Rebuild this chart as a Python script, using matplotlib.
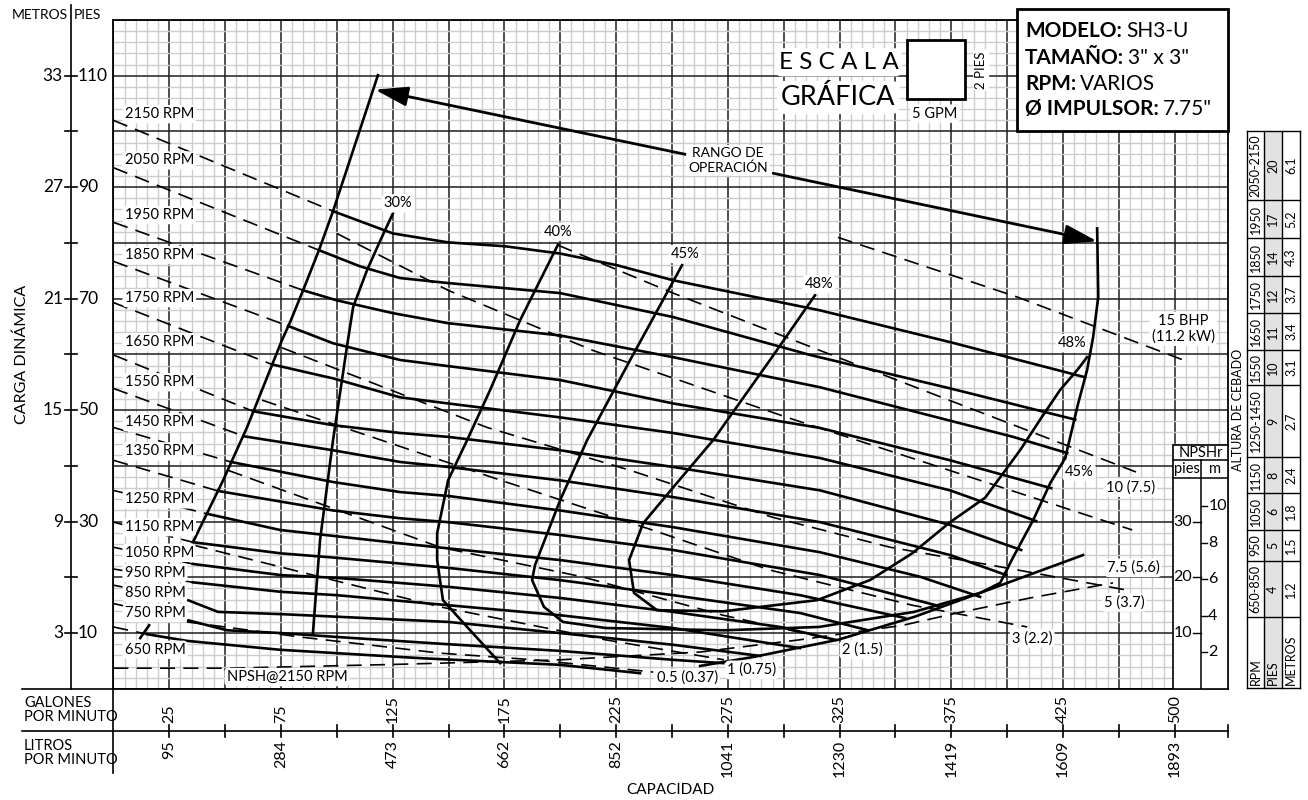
import numpy as np
import matplotlib
matplotlib.use('Agg')
import matplotlib.pyplot as plt
from matplotlib.patches import Rectangle

plt.rcParams['font.family'] = ['Lato', 'DejaVu Sans']

W, H = 1308, 800

# ---------------- datos (GPM, pies) ----------------
rpm_names = ['2150', '2050', '1950', '1850', '1750', '1650', '1550', '1450',
             '1350', '1250', '1150', '1050', '950', '850', '750', '650']
# carga a caudal cero (tramo punteado)
shutoff_h = [102.0, 93.5, 83.7, 76.7, 69.3, 59.9, 53.9, 46.9,
             41.0, 35.6, 29.9, 25.4, 21.5, 18.6, 15.3, 11.1]

q_2150 = [98.3, 125.1, 149.8, 175.3, 199.9, 225.4, 250.5, 316.3, 374.5, 434.9]
h_2150 = [85.7, 81.7, 80.1, 79.4, 78.1, 76.0, 73.3, 67.9, 62.2, 55.9]
q_2050 = [92.0, 110.4, 128.3, 149.8, 199.9, 250.5, 311.8, 374.5, 430.5]
h_2050 = [78.7, 75.8, 73.7, 72.8, 71.0, 66.7, 59.9, 53.9, 48.3]
q_1950 = [84.9, 100.0, 125.1, 149.8, 199.9, 250.5, 316.3, 402.7, 426.9]
h_1950 = [71.5, 69.7, 67.4, 65.6, 63.4, 59.5, 54.1, 45.2, 42.3]
q_1850 = [78.2, 98.3, 128.3, 149.8, 199.9, 250.5, 316.3, 374.5, 419.7]
h_1850 = [65.1, 62.0, 59.0, 57.9, 55.4, 51.2, 46.8, 41.0, 36.0]
q_1750 = [71.0, 98.3, 128.3, 149.8, 199.9, 250.5, 316.3, 374.5, 413.0]
h_1750 = [58.2, 55.7, 52.3, 51.2, 48.7, 45.9, 41.4, 35.6, 30.1]
q_1650 = [62.5, 98.3, 128.3, 149.8, 199.9, 250.5, 316.3, 374.5, 406.3]
h_1650 = [49.8, 47.3, 45.9, 45.2, 42.8, 39.8, 35.6, 29.4, 24.9]
q_1550 = [58.5, 98.3, 128.3, 149.8, 199.9, 250.5, 316.3, 374.5, 399.6]
h_1550 = [45.3, 42.8, 40.7, 39.8, 37.4, 34.4, 29.9, 24.0, 20.4]
q_1450 = [52.6, 98.3, 128.3, 149.8, 199.9, 250.5, 316.3, 361.1, 387.9]
h_1450 = [40.7, 37.1, 35.3, 34.6, 32.0, 29.0, 24.5, 20.1, 16.5]
q_1350 = [46.8, 98.3, 128.3, 149.8, 199.9, 250.5, 316.3, 370.0]
h_1350 = [35.5, 32.0, 30.6, 29.9, 27.6, 24.9, 20.4, 14.8]
q_1250 = [41.9, 74.6, 128.3, 149.8, 199.9, 250.5, 307.3, 354.3]
h_1250 = [31.4, 28.5, 26.1, 25.2, 23.1, 20.4, 16.8, 12.7]
q_1150 = [35.6, 75.0, 100.0, 149.8, 199.9, 250.5, 307.3, 337.8]
h_1150 = [26.3, 24.3, 23.5, 21.7, 19.5, 16.8, 13.6, 10.5]
q_1050 = [35.6, 75.0, 100.0, 149.8, 199.9, 250.5, 298.4, 323.0]
h_1050 = [22.4, 20.4, 19.9, 18.3, 16.3, 13.8, 11.1, 8.8]
q_950 = [35.6, 75.0, 100.0, 149.8, 199.9, 250.5, 307.3]
h_950 = [19.1, 17.4, 16.8, 15.0, 13.2, 10.9, 7.3]
q_850 = [33.4, 46.8, 75.0, 149.8, 199.9, 250.5, 289.4]
h_850 = [15.9, 13.8, 13.4, 12.0, 10.0, 7.9, 5.9]
q_750 = [33.4, 50.9, 75.0, 100.0, 149.8, 199.9, 250.5, 272.9]
h_750 = [12.3, 10.5, 10.0, 9.3, 8.0, 6.8, 5.2, 4.6]
q_650 = [15.0, 32.9, 74.6, 137.2, 199.9, 235.7]
h_650 = [9.8, 8.6, 7.0, 5.5, 4.3, 2.8]

head_q = [q_2150, q_2050, q_1950, q_1850, q_1750, q_1650, q_1550, q_1450,
          q_1350, q_1250, q_1150, q_1050, q_950, q_850, q_750, q_650]
head_h = [h_2150, h_2050, h_1950, h_1850, h_1750, h_1650, h_1550, h_1450,
          h_1350, h_1250, h_1150, h_1050, h_950, h_850, h_750, h_650]

# eficiencias
q_e30 = [125.1, 119.3, 113.5, 107.3, 104.6, 98.3, 92.5, 89.3]
h_e30 = [85.3, 80.3, 75.1, 68.5, 61.6, 44.6, 26.7, 10.0]
q_e40 = [199.0, 182.0, 168.6, 158.3, 149.8, 144.9, 144.9, 147.5, 158.3, 173.1]
h_e40 = [79.7, 66.1, 53.6, 44.6, 37.4, 27.9, 23.1, 15.9, 11.1, 4.6]
q_e45 = [254.5, 231.3, 212.0, 199.9, 188.7, 187.4, 192.7, 201.2, 220.5, 273.3,
         315.8, 358.4, 387.9, 396.9, 402.7, 411.7, 419.3, 426.0]
h_e45 = [76.0, 59.0, 44.6, 33.8, 22.2, 19.5, 14.7, 12.0, 10.9, 10.5,
         11.1, 13.8, 17.2, 19.0, 23.6, 30.3, 36.9, 41.4]
q_e48 = [314.0, 293.9, 268.4, 251.3, 237.1, 230.8, 233.0, 243.3, 272.9, 314.9,
         338.6, 357.5, 374.5, 390.2, 405.8, 416.1, 423.7, 431.4, 435.8]
h_e48 = [70.6, 59.0, 44.6, 36.5, 29.7, 23.1, 17.2, 14.1, 13.9, 15.9,
         19.5, 24.3, 29.9, 34.3, 42.8, 49.1, 53.6, 57.2, 59.5]

# limites del rango de operacion
q_left = [118.4, 98.3, 92.0, 84.9, 79.1, 75.4, 59.8, 49.1, 35.6]
h_left = [110.1, 85.7, 78.7, 71.5, 65.8, 62.5, 46.9, 37.4, 26.3]
q_right = [440.3, 440.8, 438.5, 435.8, 431.8, 426.0]
h_right = [82.6, 70.3, 63.1, 57.2, 51.2, 41.4]
q_tick650 = [12.0, 16.0]
h_tick650 = [9.1, 11.4]
q_low = [262.6, 286.3, 324.3, 358.4, 387.9, 434.0]
h_low = [4.1, 5.7, 8.8, 12.9, 17.2, 24.0]

# NPSH @ 2150 RPM
q_npsh = [0, 52.2, 128.3, 199.9, 262.6, 307.3, 353.4, 377.6, 410.3, 447.4]
h_npsh = [3.7, 3.7, 4.4, 5.2, 6.6, 8.8, 11.4, 13.6, 16.3, 19.0]

# potencia (BHP)
q_bhp15 = [324.3, 404.5, 478.8]
h_bhp15 = [81.0, 70.3, 59.0]
q_bhp10 = [199.0, 250.5, 316.3, 420.6, 457.7]
h_bhp10 = [79.6, 71.0, 60.7, 44.6, 38.9]
q_bhp7 = [100.0, 149.8, 214.7, 301.5, 456.0]
h_bhp7 = [81.7, 71.5, 60.7, 48.7, 28.5]
q_bhp5 = [75.4, 167.2, 231.3, 294.8, 347.6, 400.9, 453.7]
h_bhp5 = [61.2, 46.9, 39.2, 30.8, 25.4, 21.6, 17.7]
q_bhp3 = [66.5, 173.5, 241.1, 293.9, 357.5, 409.0]
h_bhp3 = [51.8, 37.4, 28.5, 21.3, 15.0, 11.1]
q_bhp2 = [51.3, 146.2, 209.8, 272.9, 322.1]
h_bhp2 = [39.2, 25.4, 20.1, 13.2, 8.8]
q_bhp1 = [35.6, 146.2, 220.1, 273.3]
h_bhp1 = [25.8, 14.7, 8.8, 5.2]
q_bhp05 = [32.9, 83.5, 146.2, 188.3, 241.6]
h_bhp05 = [12.0, 9.3, 6.4, 5.2, 3.0]

bhp_names = ['0.5 (0.37)', '1 (0.75)', '2 (1.5)', '3 (2.2)', '5 (3.7)',
             '7.5 (5.6)', '10 (7.5)', '15 BHP\n(11.2 kW)']
eff_names = ['30%', '40%', '45%', '48%', '48%', '45%']

# ejes
gpm_labels = ['25', '75', '125', '175', '225', '275', '325', '375', '425', '500']
lpm_labels = ['95', '284', '473', '662', '852', '1041', '1230', '1419', '1609', '1893']
pies_labels = [10, 30, 50, 70, 90, 110]
metros_labels = ['3', '9', '15', '21', '27', '33']
npsh_pies = [10, 20, 30]
npsh_m = [2, 4, 6, 8, 10]

# altura de cebado
alt_rpm = ['2050-2150', '1950', '1850', '1750', '1650', '1550', '1250-1450',
           '1150', '1050', '950', '650-850']
alt_pies = ['20', '17', '14', '12', '11', '10', '9', '8', '6', '5', '4']
alt_m = ['6.1', '5.2', '4.3', '3.7', '3.4', '3.1', '2.7', '2.4', '1.8', '1.5', '1.2']

model_info = [('MODELO:', 'SH3-U'), ('TAMAÑO:', '3" x 3"'),
              ('RPM:', 'VARIOS'), ('Ø IMPULSOR:', '7.75"')]

# ---------------- figura ----------------
fig = plt.figure(figsize=(W / 100, H / 100), dpi=100)
ax = fig.add_axes([113.4 / W, 1 - 688.8 / H, 1114.9 / W, 668.8 / H])
ax.set_xlim(0, 499)
ax.set_ylim(0, 120)
ax.set_xticks(np.arange(0, 500, 25))
ax.set_xticks(np.arange(0, 500, 5), minor=True)
ax.set_yticks(np.arange(0, 121, 10))
ax.set_yticks(np.arange(0, 121, 2), minor=True)
ax.tick_params(which='both', length=0, labelbottom=False, labelleft=False)
ax.grid(which='minor', color='#cdcdcd', lw=1.0)
ax.grid(which='major', color='#1e1e1e', lw=1.1)
ax.set_axisbelow(True)
for s in ax.spines.values():
    s.set_linewidth(1.3)

SOLID = dict(color='black', lw=1.9, zorder=3, solid_joinstyle='round')
DASH = dict(color='black', lw=1.2, linestyle=(0, (9, 5)), zorder=3)
LBL = dict(boxstyle='round,pad=0.15,rounding_size=0.3', fc='white', ec='none')

for q, h, h0 in zip(head_q, head_h, shutoff_h):
    ax.plot([0, q[0]], [h0, h[0]], **DASH)
    ax.plot(q, h, **SOLID)

for q, h in [(q_e30, h_e30), (q_e40, h_e40), (q_e45, h_e45), (q_e48, h_e48),
             (q_left, h_left), (q_right, h_right), (q_tick650, h_tick650),
             (q_low, h_low)]:
    ax.plot(q, h, **SOLID)

for q, h in [(q_npsh, h_npsh), (q_bhp15, h_bhp15), (q_bhp10, h_bhp10),
             (q_bhp7, h_bhp7), (q_bhp5, h_bhp5), (q_bhp3, h_bhp3),
             (q_bhp2, h_bhp2), (q_bhp1, h_bhp1), (q_bhp05, h_bhp05)]:
    ax.plot(q, h, **DASH)

# etiquetas RPM
rpm_label_h = [103.1, 94.8, 85.0, 77.8, 70.1, 62.2, 55.0, 47.8,
               42.6, 34.0, 29.0, 24.4, 20.8, 17.2, 13.6, 7.0]
for name, y in zip(rpm_names, rpm_label_h):
    ax.text(5.0, y, f'{name} RPM', fontsize=10.5, ha='left', va='center',
            bbox=LBL, zorder=6)

eff_pos = [(127.4, 87.1), (199.0, 82.0), (255.8, 78.0), (315.8, 72.6),
           (429.1, 62.0), (432.2, 38.9)]
for name, (x, y) in zip(eff_names, eff_pos):
    ax.text(x, y, name, fontsize=10.5, ha='center', va='center', bbox=LBL, zorder=6)

bhp_pos = [(256.8, 1.95), (285.8, 3.4), (335.1, 7.0), (411.2, 9.1), (452.4, 15.5),
           (456.4, 21.7), (455.1, 36.1), (478.8, 64.6)]
for name, (x, y) in zip(bhp_names, bhp_pos):
    ax.text(x, y, name, fontsize=10.5, ha='center', va='center', bbox=LBL,
            zorder=6, linespacing=1.15)

ax.text(77.7, 2.1, 'NPSH@2150 RPM', fontsize=10.5, ha='center', va='center',
        bbox=LBL, zorder=6)
ax.text(275.1, 94.8, 'RANGO DE\nOPERACIÓN', fontsize=10, ha='center',
        va='center', bbox=LBL, zorder=6, linespacing=1.2)

arrow = dict(arrowstyle='-|>,head_length=1.0,head_width=0.3', lw=2.0,
             color='black', shrinkA=0, shrinkB=0, mutation_scale=20)
ax.annotate('', xy=(117.1, 107.5), xytext=(257.2, 95.8), arrowprops=arrow, zorder=4)
ax.annotate('', xy=(440.3, 80.3), xytext=(295.3, 92.5), arrowprops=arrow, zorder=4)

# escala grafica
ax.text(324.5, 112.4, 'E S C A L A', fontsize=17.5, ha='center', va='center',
        bbox=LBL, zorder=6)
ax.text(324.5, 106.1, 'GRÁFICA', fontsize=19.5, ha='center', va='center',
        bbox=LBL, zorder=6)
ax.add_patch(Rectangle((355.2, 105.9), 26.0, 10.6, fc='white', ec='black',
                       lw=2.0, zorder=7))
ax.text(388.4, 111.0, '2 PIES', fontsize=9.5, rotation=90, ha='center',
        va='center', bbox=LBL, zorder=6)
ax.text(367.7, 103.2, '5 GPM', fontsize=10.5, ha='center', va='center',
        bbox=LBL, zorder=6)

# panel NPSHr
ax.add_patch(Rectangle((474.3, 0), 24.7, 43.7, fc='white', ec='black',
                       lw=1.2, zorder=4))
ax.plot([474.3, 499], [41.0, 41.0], color='black', lw=1.1, zorder=5)
ax.plot([474.3, 499], [37.8, 37.8], color='black', lw=1.1, zorder=5)
ax.plot([486.8, 486.8], [0, 41.0], color='black', lw=1.1, zorder=5)
ax.text(486.6, 42.35, 'NPSHr', fontsize=10.5, ha='center', va='center', zorder=6)
ax.text(480.5, 39.4, 'pies', fontsize=10.5, ha='center', va='center', zorder=6)
ax.text(492.9, 39.4, 'm', fontsize=10.5, ha='center', va='center', zorder=6)
for v in npsh_pies:
    ax.plot([483.2, 486.8], [v, v], color='black', lw=1.0, zorder=5)
    ax.text(482.7, v, str(v), fontsize=11.5, ha='right', va='center', zorder=6)
for v in npsh_m:
    y = v / 0.3048
    ax.plot([486.8, 489.5], [y, y], color='black', lw=1.0, zorder=5)
    ax.text(490.0, y, str(v), fontsize=11.5, ha='left', va='center', zorder=6)

# eje inferior (GPM / LPM)
tx = ax.get_xaxis_transform()


def ay(py):
    return (688.8 - py) / 668.8


x_far = (22 - 113.4) / 2.234
kw = dict(color='black', lw=1.2, transform=tx, clip_on=False)
ax.plot([x_far, 0], [0, 0], **kw)
ax.plot([x_far, 499], [ay(731), ay(731)], **kw)
ax.plot([0, 0], [0, ay(773)], **kw)
for p in list(range(25, 500, 25)) + [499]:
    ax.plot([p, p], [ay(725), ay(737)], **kw)
label_pos = list(range(25, 500, 50))
for p, g, l in zip(label_pos, gpm_labels, lpm_labels):
    ax.text(p, ay(723), g, rotation=90, fontsize=11.5, ha='center', va='bottom',
            transform=tx)
    ax.text(p, ay(740), l, rotation=90, fontsize=11.5, ha='center', va='top',
            transform=tx)

# eje izquierdo (metros / pies)
ty = ax.get_yaxis_transform()


def axx(px):
    return (px - 113.4) / 1114.9


ax.plot([axx(71), axx(71)], [0, 1.0224], color='black', lw=1.2,
        transform=ax.transAxes, clip_on=False)
for v in range(10, 111, 10):
    ax.plot([axx(65), axx(77)], [v, v], color='black', lw=1.2, transform=ty,
            clip_on=False)
for v, m in zip(pies_labels, metros_labels):
    ax.text(axx(78), v, str(v), fontsize=12.5, ha='left', va='center', transform=ty)
    ax.text(axx(63), v, m, fontsize=12.5, ha='right', va='center', transform=ty)

# capa superior en pixeles para textos y tablas
ov = fig.add_axes([0, 0, 1, 1], zorder=5)
ov.set_xlim(0, W)
ov.set_ylim(H, 0)
ov.axis('off')

ov.text(68, 15, 'METROS', fontsize=10, ha='right', va='center')
ov.text(74, 15, 'PIES', fontsize=10, ha='left', va='center')
ov.text(22, 354, 'CARGA DINÁMICA', fontsize=11.5, rotation=90, ha='center',
        va='center')
ov.text(24, 710, 'GALONES\nPOR MINUTO', fontsize=10.5, ha='left', va='center',
        linespacing=1.05)
ov.text(24, 753, 'LITROS\nPOR MINUTO', fontsize=10.5, ha='left', va='center',
        linespacing=1.05)
ov.text(670, 790, 'CAPACIDAD', fontsize=11, ha='center', va='center')

# recuadro del modelo
ov.add_patch(Rectangle((1017, 9), 211, 122, fc='white', ec='black', lw=2.0))
renderer = fig.canvas.get_renderer()
for (bold, rest), y in zip(model_info, [31, 58, 84, 109]):
    t = ov.text(1025, y, bold, fontsize=15, fontweight='bold', ha='left',
                va='center')
    bb = t.get_window_extent(renderer)
    x_end = ov.transData.inverted().transform((bb.x1, bb.y0))[0]
    ov.text(x_end + 4, y, rest, fontsize=15, ha='left', va='center')

# tabla altura de cebado
cols = [1247, 1264, 1282, 1300]
rows = [131, 200, 238, 276, 313, 350, 385, 457, 493, 530, 561, 617, 688]
ov.add_patch(Rectangle((1264, 131), 18, 557, fc='#e2e2e2', ec='none'))
for c in cols:
    ov.plot([c, c], [131, 688], color='black', lw=1.0)
for r in rows:
    ov.plot([1247, 1300], [r, r], color='black', lw=1.0)
for i, (a, b, c) in enumerate(zip(alt_rpm, alt_pies, alt_m)):
    yc = (rows[i] + rows[i + 1]) / 2
    for xc, s in zip([1255.5, 1273, 1291], [a, b, c]):
        ov.text(xc, yc, s, fontsize=9, rotation=90, ha='center', va='center')
for xc, s in zip([1255.5, 1273, 1291], ['RPM', 'PIES', 'METROS']):
    ov.text(xc, 685, s, fontsize=9, rotation=90, ha='center', va='bottom')
ov.text(1238, 410, 'ALTURA DE CEBADO', fontsize=9, rotation=90,
        ha='center', va='center')

fig.savefig('out.png', dpi=100)
